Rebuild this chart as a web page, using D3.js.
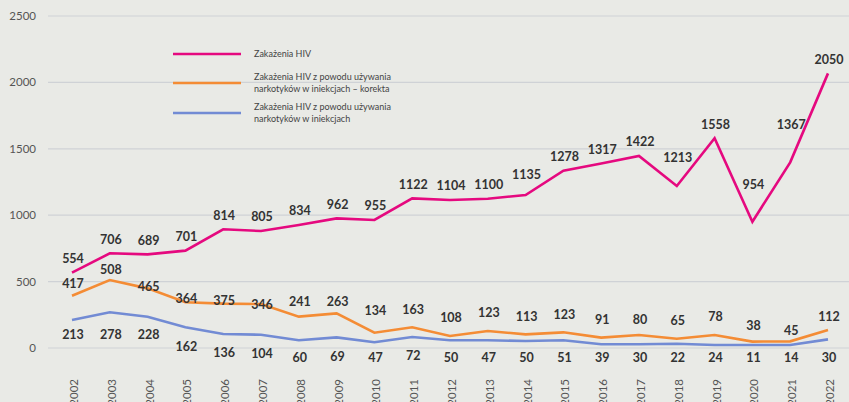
<!DOCTYPE html>
<html>
<head>
<meta charset="utf-8">
<script src="https://cdn.jsdelivr.net/npm/d3@7"></script>
<style>
  body { margin: 0; background: #e9eae6; }
  svg { display: block; font-family: Lato, "Open Sans", sans-serif; }
</style>
</head>
<body>
<div id="main"></div>
<script>
///////////
// DATA  //
///////////

const years = ["2002","2003","2004","2005","2006","2007","2008","2009","2010","2011","2012",
               "2013","2014","2015","2016","2017","2018","2019","2020","2021","2022"]

// values as drawn by the lines
const hivLine      = [567, 713, 705, 733, 894, 881, 926, 976, 964, 1127, 1114, 1124, 1152, 1335, 1390, 1446, 1220, 1579, 951, 1398, 2068]
const korektaLine  = [394, 512, 449, 344, 334, 331, 236, 261, 115, 156, 90, 128, 103, 118, 78, 98, 70, 98, 48, 50, 135]
const iniekcjeLine = [211, 269, 236, 156, 105, 100, 58, 80, 43, 83, 58, 58, 53, 58, 28, 28, 32, 23, 23, 23, 65]

// values as printed on the labels
const hivLabels      = [554, 706, 689, 701, 814, 805, 834, 962, 955, 1122, 1104, 1100, 1135, 1278, 1317, 1422, 1213, 1558, 954, 1367, 2050]
const korektaLabels  = [417, 508, 465, 364, 375, 346, 241, 263, 134, 163, 108, 123, 113, 123, 91, 80, 65, 78, 38, 45, 112]
const iniekcjeLabels = [213, 278, 228, 162, 136, 104, 60, 69, 47, 72, 50, 47, 50, 51, 39, 30, 22, 24, 11, 14, 30]

const yTicks = [0, 500, 1000, 1500, 2000, 2500]

const legendNames = [
	["Zakażenia HIV"],
	["Zakażenia HIV z powodu używania", "narkotyków w iniekcjach – korekta"],
	["Zakażenia HIV z powodu używania", "narkotyków w iniekcjach"]
]

///////////
// SETUP //
///////////

const width = 849
const height = 402
const bg = '#e9eae6'
const pink = '#e5097f'
const orange = '#f48c35'
const blue = '#728bd4'
const textColor = '#333'

let x = d3.scalePoint().domain(years).range([72, 828])
let y = d3.scaleLinear().domain([0, 2500]).range([348, 16])

let svg = d3.select("#main").append("svg")
	.attr("width", width)
	.attr("height", height)

svg.append("rect").attr("width", width).attr("height", height).attr("fill", bg)

// GRID
svg.selectAll("line.grid")
	.data(yTicks)
	.enter().append("line")
		.attr("class", "grid")
		.attr("x1", 48).attr("x2", width)
		.attr("y1", d => y(d)).attr("y2", d => y(d))
		.attr("stroke", "#cfd2d6")
		.attr("stroke-width", 1.2)

svg.selectAll("text.ytick")
	.data(yTicks)
	.enter().append("text")
		.attr("class", "ytick")
		.attr("x", 36)
		.attr("y", d => y(d))
		.attr("dy", "0.35em")
		.attr("text-anchor", "end")
		.attr("font-size", 11.5)
		.attr("fill", "#555")
		.text(d => d)

svg.selectAll("text.xtick")
	.data(years)
	.enter().append("text")
		.attr("class", "xtick")
		.attr("transform", d => `translate(${x(d) + 2},379) rotate(-90)`)
		.attr("dy", "0.35em")
		.attr("text-anchor", "end")
		.attr("font-size", 11.5)
		.attr("fill", "#555")
		.text(d => d)

// LEGEND (box hides the grid behind it)
let legend = svg.append("g")
svg.append("rect")
	.attr("x", 151).attr("y", 30).attr("width", 266).attr("height", 105)
	.attr("fill", bg)
	.lower()
svg.select("rect").lower()

const legendColors = [pink, orange, blue]
const legendY = [54, 83, 113]
legendNames.forEach((lines, i) => {
	legend.append("line")
		.attr("x1", 173).attr("x2", 241)
		.attr("y1", legendY[i]).attr("y2", legendY[i])
		.attr("stroke", legendColors[i])
		.attr("stroke-width", 2.5)
	let t = legend.append("text")
		.attr("x", 254)
		.attr("y", legendY[i] - (lines.length - 1) * 6)
		.attr("dy", "0.35em")
		.attr("font-size", 9)
		.attr("fill", "#444")
	lines.forEach((l, j) => {
		t.append("tspan").attr("x", 254).attr("dy", j == 0 ? "0.35em" : 12).text(l)
	})
})

//////////
// DRAW //
//////////

let line = d3.line().x((d, i) => x(years[i])).y(d => y(d))

function draw_series(values, color){
	svg.append("path")
		.datum(values)
		.attr("d", line)
		.attr("fill", "none")
		.attr("stroke", color)
		.attr("stroke-width", 2.6)
		.attr("stroke-linejoin", "miter")
}

draw_series(korektaLine, orange)
draw_series(iniekcjeLine, blue)
draw_series(hivLine, pink)

// label offsets from the line point
const hivNudge = {"2014": -6, "2018": -14, "2020": -23, "2021": -24}
const korektaNudge = {"2002": 6, "2003": 8, "2004": 16, "2005": 14, "2006": 15, "2007": 19,
                      "2008": 3, "2009": 6, "2010": -4, "2017": 3, "2020": 2, "2021": 7, "2022": 5}

function draw_labels(labels, values, cls, posY){
	svg.selectAll("text." + cls)
		.data(labels)
		.enter().append("text")
			.attr("class", cls)
			.attr("x", (d, i) => x(years[i]) + 1)
			.attr("y", (d, i) => posY(values[i], years[i]))
			.attr("dy", "0.35em")
			.attr("text-anchor", "middle")
			.attr("font-size", 12.5)
			.attr("font-weight", "bold")
			.attr("fill", textColor)
			.text(d => d)
}

draw_labels(hivLabels, hivLine, "hiv", (v, yr) => y(v) - 14 + (hivNudge[yr] || 0))
draw_labels(korektaLabels, korektaLine, "kor", (v, yr) => y(v) - 18 + (korektaNudge[yr] || 0))
draw_labels(iniekcjeLabels, iniekcjeLine, "ini", (v, yr) => yr < "2005" ? 335 : Math.min(y(v) + 19, 358))
</script>
</body>
</html>
